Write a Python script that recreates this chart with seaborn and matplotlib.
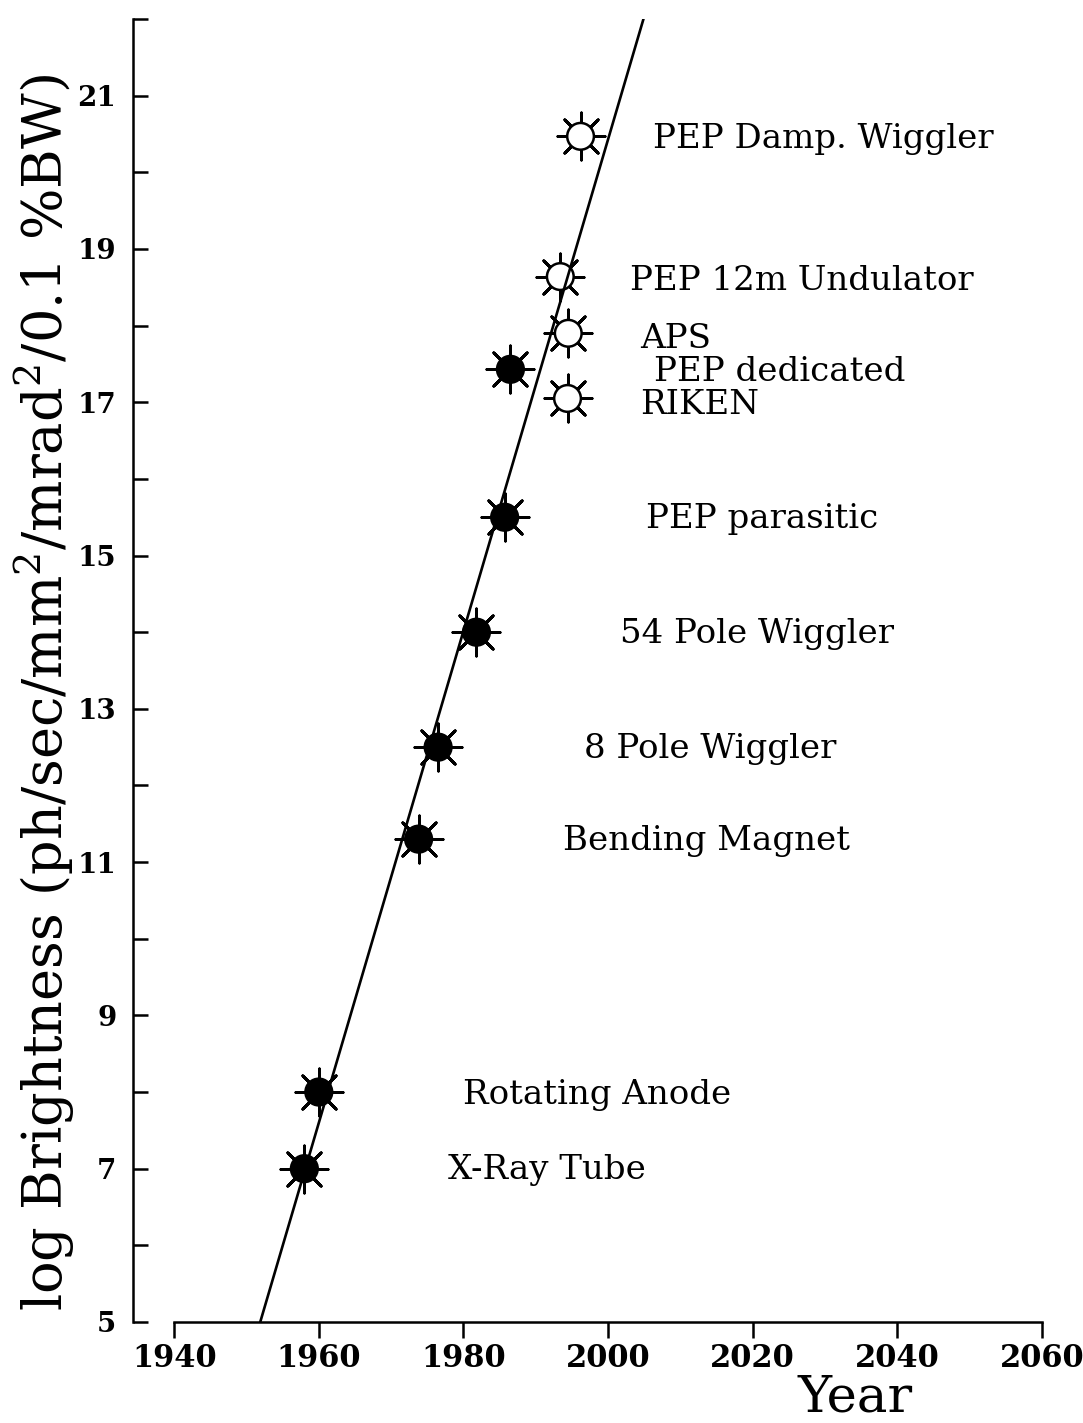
import matplotlib
matplotlib.use("Agg")
import matplotlib.pyplot as plt
import seaborn as sns
import pandas as pd

# Source brightness history
sources = ["X-Ray Tube", "Rotating Anode", "Bending Magnet", "8 Pole Wiggler",
           "54 Pole Wiggler", "PEP parasitic", "PEP dedicated", "RIKEN", "APS",
           "PEP 12m Undulator", "PEP Damp. Wiggler"]
years = [1958.0, 1960.0, 1973.8, 1976.5, 1981.8, 1985.7, 1986.5, 1994.4, 1994.5, 1993.4, 1996.2]
log_brightness = [7.0, 8.0, 11.3, 12.5, 14.0, 15.5, 17.43, 17.05, 17.9, 18.64, 20.47]
status = ["built", "built", "built", "built", "built", "built", "built",
          "planned", "planned", "planned", "planned"]

# Label anchor points (year, log brightness)
label_years = [1977.9, 1980.0, 1993.8, 1996.7, 2001.6, 2005.2, 2006.3, 2004.5, 2004.5, 2003.1, 2006.2]
label_values = [6.98, 7.96, 11.28, 12.48, 13.98, 15.48, 17.39, 16.97, 17.82, 18.58, 20.43]

# Exponential growth trend line
trend_years = [1951.9, 2004.9]
trend_values = [5.0, 22.0]

x_ticks = [1940, 1960, 1980, 2000, 2020, 2040, 2060]
y_major = [5, 7, 9, 11, 13, 15, 17, 19, 21]
y_minor = [6, 8, 10, 12, 14, 16, 18, 20, 22]

df = pd.DataFrame({"source": sources, "year": years,
                   "logb": log_brightness, "status": status})
trend = pd.DataFrame({"year": trend_years, "logb": trend_values})

sns.set_style("ticks")
plt.rcParams["font.family"] = ["DejaVu Serif"]
plt.rcParams.update({
    "axes.edgecolor": "black", "axes.labelcolor": "black", "text.color": "black",
    "xtick.color": "black", "ytick.color": "black",
})

fig = plt.figure(figsize=(10.83, 14.23), dpi=100)
ax = fig.add_axes([0.1228, 0.0710, 0.8392, 0.9156])

# spokes behind each source marker
sns.scatterplot(data=df, x="year", y="logb", marker=(8, 2, 0), s=1150,
                color="black", linewidth=2.1, legend=False, ax=ax, zorder=2)
# marker bodies: filled for operating sources, open for planned ones
sns.scatterplot(data=df, x="year", y="logb", hue="status",
                palette={"built": "black", "planned": "white"},
                marker="o", s=370, edgecolor="black", linewidth=1.8,
                legend=False, ax=ax, zorder=3)
sns.lineplot(data=trend, x="year", y="logb", color="black", linewidth=1.9,
             ax=ax, zorder=4)

for name, lx, ly in zip(sources, label_years, label_values):
    ax.text(lx, ly, name, fontsize=24.5, va="center", ha="left", color="black")

ax.set_xlim(1934.3, 2060)
ax.set_ylim(5, 22)
ax.set_xticks(x_ticks)
ax.set_xticklabels([str(t) for t in x_ticks], fontsize=22, fontweight="bold")
ax.set_yticks(y_major)
ax.set_yticklabels([str(t) for t in y_major], fontsize=20, fontweight="bold")
ax.set_yticks(y_minor, minor=True)

ax.tick_params(axis="x", direction="out", length=11.5, width=1.8, pad=4)
ax.tick_params(axis="y", which="both", direction="in", length=11, width=1.8, pad=12)

for side in ["top", "right"]:
    ax.spines[side].set_visible(False)
ax.spines["left"].set_bounds(5, 22)
ax.spines["bottom"].set_bounds(1940, 2060)
for side in ["left", "bottom"]:
    ax.spines[side].set_linewidth(1.8)

ax.set_xlabel("")
fig.text(855 / 1083, (1423 - 1411) / 1423, "Year", fontsize=37,
         ha="center", va="baseline")
ax.set_ylabel(r"log Brightness (ph/sec/mm$^{\mathregular{2}}$/mrad$^{\mathregular{2}}$/0.1 %BW)",
              fontsize=39)
ax.yaxis.set_label_coords(-0.063, 0.483)

fig.savefig("out.png", dpi=100)
